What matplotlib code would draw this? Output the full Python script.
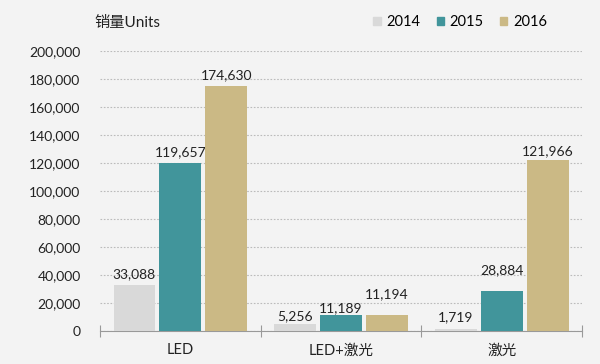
import matplotlib.pyplot as plt
import numpy as np

plt.rcParams['font.family'] = ['Lato', 'Noto Sans CJK SC', 'DejaVu Sans']

categories = ['LED', 'LED+激光', '激光']
years = ['2014', '2015', '2016']
sales_2014 = [33088, 5256, 1719]
sales_2015 = [119657, 11189, 28884]
sales_2016 = [174630, 11194, 121966]
yticks = [0, 20000, 40000, 60000, 80000, 100000, 120000, 140000, 160000, 180000, 200000]

colors = ['#d9d9d9', '#41959b', '#cbb985']
# label gap above each bar, in points (per series, per category)
label_gaps = [[3, 1, 4], [4, 0.5, 10], [4, 11, 2]]

fig = plt.figure(figsize=(6, 3.64), dpi=100, facecolor='#f3f3f3')
ax = fig.add_axes([0.1667, 0.0907, 0.8033, 0.7693])
ax.set_facecolor('none')

x = np.arange(len(categories))
width = 0.26
step = 0.286
series = [sales_2014, sales_2015, sales_2016]
for i, (vals, col) in enumerate(zip(series, colors)):
    pos = x + (i - 1) * step
    ax.bar(pos, vals, width=width, color=col, zorder=3)
    for p, v, g in zip(pos, vals, label_gaps[i]):
        ax.annotate(f'{v:,}', (p, v), xytext=(0, g), textcoords='offset points',
                    ha='center', va='bottom', fontsize=10, color='#222222')

ax.set_xlim(-0.5, 2.5)
ax.set_ylim(0, 200000)
ax.set_yticks(yticks)
ax.set_yticklabels([f'{t:,}' for t in yticks], fontsize=10, color='#222222')
ax.yaxis.grid(True, linestyle=(0, (1.5, 1.5)), color='#bbbbbb', linewidth=0.8, zorder=0)
ax.tick_params(axis='y', length=0, pad=14)

ax.set_xticks([-0.5, 0.5, 1.5, 2.5])
ax.set_xticklabels([])
ax.set_xticks(x, minor=True)
ax.set_xticklabels(categories, minor=True, fontsize=10.5, color='#222222')
ax.tick_params(axis='x', which='major', direction='inout', length=8, color='#999999')
ax.tick_params(axis='x', which='minor', length=0, pad=9)

for s in ['top', 'right', 'left']:
    ax.spines[s].set_visible(False)
ax.spines['bottom'].set_color('#999999')

fig.text(0.158, 0.937, '销量Units', fontsize=11, color='#222222', va='center')

handles = [plt.Rectangle((0, 0), 1, 1, color=c) for c in colors]
fig.legend(handles, years, loc='center', bbox_to_anchor=(0.767, 0.94), ncol=3,
           frameon=False, fontsize=10.5, handlelength=0.5, handleheight=0.5,
           handletextpad=0.4, columnspacing=1.1)

fig.savefig('out.png', dpi=100, facecolor=fig.get_facecolor())
